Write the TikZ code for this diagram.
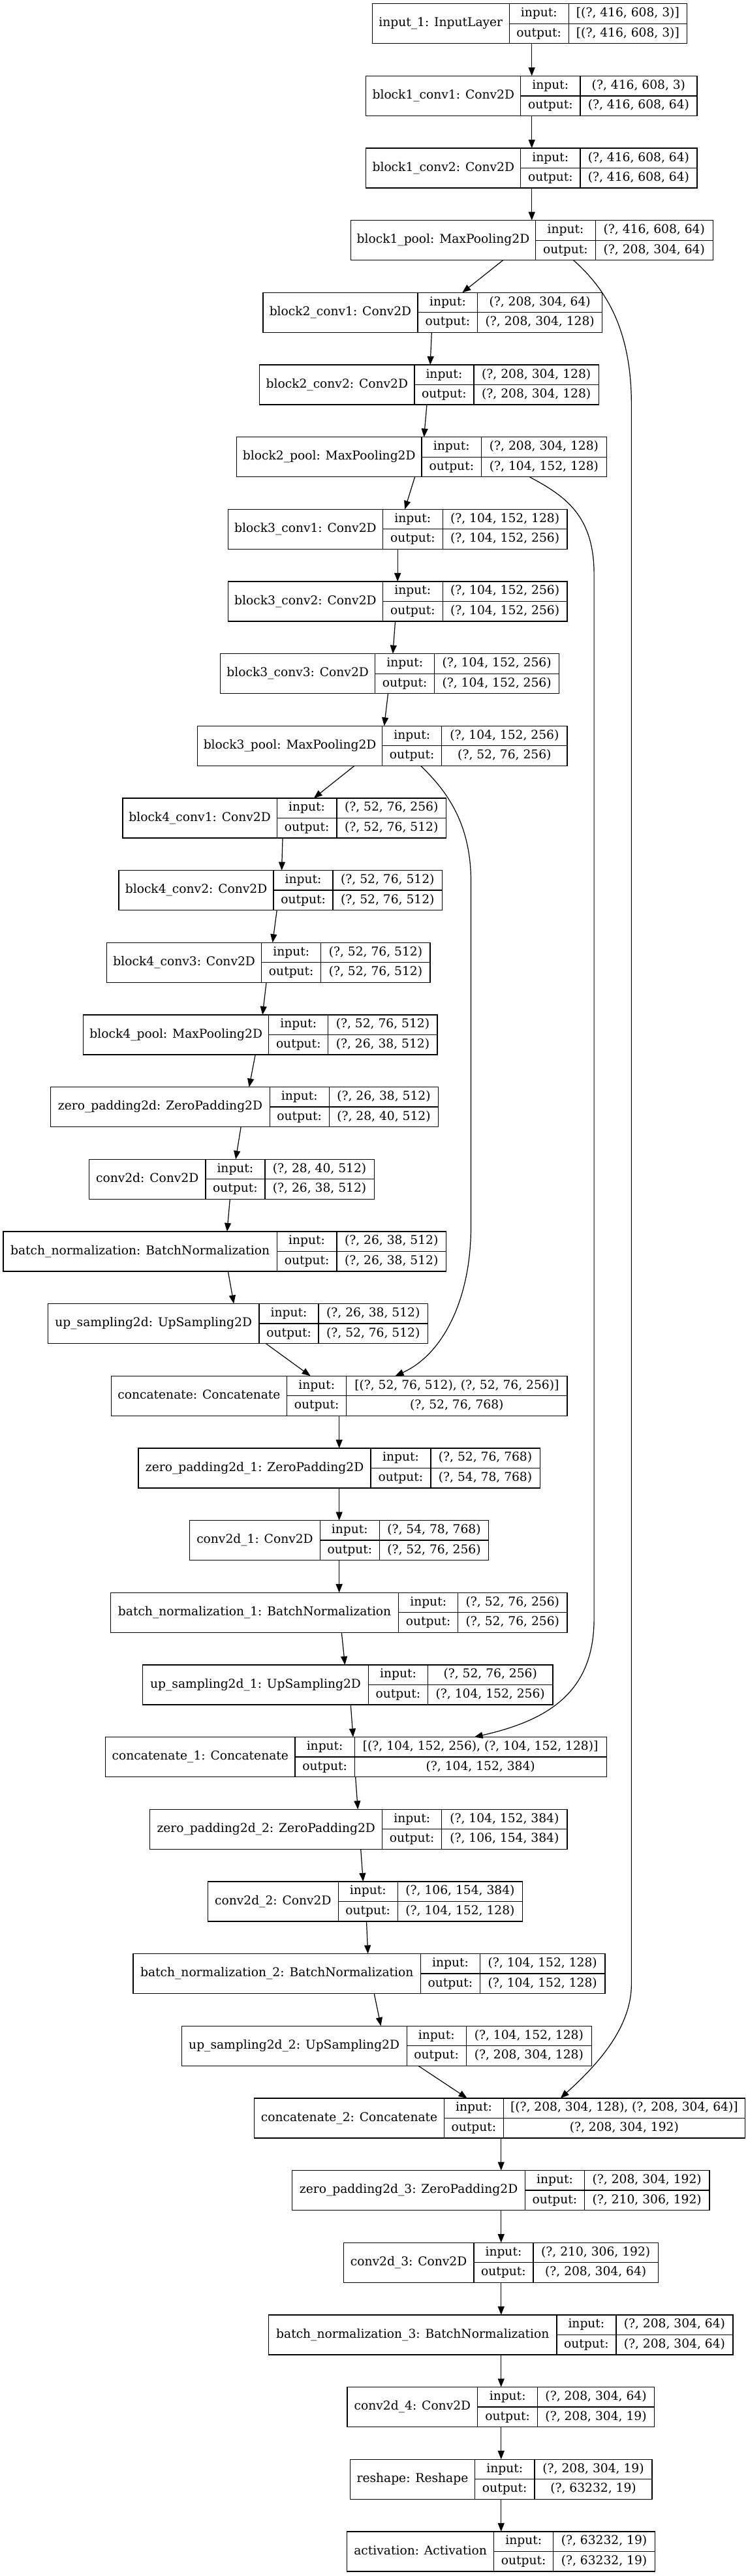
\documentclass[tikz,border=0pt]{standalone}
\usepackage{fontspec}
\setmainfont{DejaVu Serif}
\usetikzlibrary{arrows.meta,fit}
\tikzset{
  box/.style={draw, line width=1.3pt, inner sep=0pt, outer sep=0pt},
  divline/.style={line width=1.3pt},
  cell/.style={inner sep=0pt, text height=13.5pt, text depth=4pt, font=\fontsize{18.67pt}{22pt}\selectfont},
  edge/.style={line width=1.2pt, -{Triangle[length=13pt,width=10pt]}},
}
\newcommand\recnode[9]{%
  \pgfmathsetmacro\yt{5.7+110.66*#2}%
  \pgfmathsetmacro\yb{\yt+61}%
  \pgfmathsetmacro\ym{\yt+30.5}%
  \coordinate (#1-nw) at (#3,\yt);
  \coordinate (#1-se) at (#6,\yb);
  \node[box, fit=(#1-nw)(#1-se)] (#1) {};
  \draw[divline] (#4,\yt) -- (#4,\yb) (#5,\yt) -- (#5,\yb) (#4,\ym) -- (#6,\ym);
  \node[cell] (#1-l) at ({(#3+#4)/2},\ym) {#7};
  \node[cell] (#1-i) at ({(#4+#5)/2},{\yt+15.25}) {input:};
  \node[cell] (#1-o) at ({(#4+#5)/2},{\yt+45.75}) {output:};
  \node[cell] (#1-iv) at ({(#5+#6)/2},{\yt+15.25}) {#8};
  \node[cell] (#1-ov) at ({(#5+#6)/2},{\yt+45.75}) {#9};
}
\begin{document}
\begin{tikzpicture}[x=0.733974pt, y=-1pt]
\useasboundingbox (0,0) rectangle (1560,3947);
\fill[white] (0,0) rectangle (1560,3947);
\recnode{n0}{0}{777}{1063}{1187}{1434}{input\_1: InputLayer}{[(?, 416, 608, 3)]}{[(?, 416, 608, 3)]}
\recnode{n1}{1}{764}{1087}{1211}{1455}{block1\_conv1: Conv2D}{(?, 416, 608, 3)}{(?, 416, 608, 64)}
\recnode{n2}{2}{764}{1087}{1211}{1455}{block1\_conv2: Conv2D}{(?, 416, 608, 64)}{(?, 416, 608, 64)}
\recnode{n3}{3}{732}{1118}{1243}{1488}{block1\_pool: MaxPooling2D}{(?, 416, 608, 64)}{(?, 208, 304, 64)}
\recnode{n4}{4}{549}{872}{997}{1257}{block2\_conv1: Conv2D}{(?, 208, 304, 64)}{(?, 208, 304, 128)}
\recnode{n5}{5}{542}{865}{989}{1250}{block2\_conv2: Conv2D}{(?, 208, 304, 128)}{(?, 208, 304, 128)}
\recnode{n6}{6}{494}{880}{1005}{1266}{block2\_pool: MaxPooling2D}{(?, 208, 304, 128)}{(?, 104, 152, 128)}
\recnode{n7}{7}{476}{799}{924}{1184}{block3\_conv1: Conv2D}{(?, 104, 152, 128)}{(?, 104, 152, 256)}
\recnode{n8}{8}{476}{799}{924}{1184}{block3\_conv2: Conv2D}{(?, 104, 152, 256)}{(?, 104, 152, 256)}
\recnode{n9}{9}{460}{783}{907}{1167}{block3\_conv3: Conv2D}{(?, 104, 152, 256)}{(?, 104, 152, 256)}
\recnode{n10}{10}{412}{798}{922}{1184}{block3\_pool: MaxPooling2D}{(?, 104, 152, 256)}{(?, 52, 76, 256)}
\recnode{n11}{11}{256}{578}{703}{931}{block4\_conv1: Conv2D}{(?, 52, 76, 256)}{(?, 52, 76, 512)}
\recnode{n12}{12}{248}{571}{695}{923}{block4\_conv2: Conv2D}{(?, 52, 76, 512)}{(?, 52, 76, 512)}
\recnode{n13}{13}{223}{546}{670}{898}{block4\_conv3: Conv2D}{(?, 52, 76, 512)}{(?, 52, 76, 512)}
\recnode{n14}{14}{174}{561}{685}{913}{block4\_pool: MaxPooling2D}{(?, 52, 76, 512)}{(?, 26, 38, 512)}
\recnode{n15}{15}{106}{563}{687}{915}{zero\_padding2d: ZeroPadding2D}{(?, 26, 38, 512)}{(?, 28, 40, 512)}
\recnode{n16}{16}{186}{429}{553}{781}{conv2d: Conv2D}{(?, 28, 40, 512)}{(?, 26, 38, 512)}
\recnode{n17}{17}{7}{578}{703}{931}{batch\_normalization: BatchNormalization}{(?, 26, 38, 512)}{(?, 26, 38, 512)}
\recnode{n18}{18}{100}{541}{665}{893}{up\_sampling2d: UpSampling2D}{(?, 26, 38, 512)}{(?, 52, 76, 512)}
\recnode{n19}{19}{232}{599}{723}{1184}{concatenate: Concatenate}{[(?, 52, 76, 512), (?, 52, 76, 256)]}{(?, 52, 76, 768)}
\recnode{n20}{20}{289}{774}{899}{1127}{zero\_padding2d\_1: ZeroPadding2D}{(?, 52, 76, 768)}{(?, 54, 78, 768)}
\recnode{n21}{21}{396}{668}{792}{1020}{conv2d\_1: Conv2D}{(?, 54, 78, 768)}{(?, 52, 76, 256)}
\recnode{n22}{22}{231}{832}{956}{1184}{batch\_normalization\_1: BatchNormalization}{(?, 52, 76, 256)}{(?, 52, 76, 256)}
\recnode{n23}{23}{298}{769}{893}{1154}{up\_sampling2d\_1: UpSampling2D}{(?, 52, 76, 256)}{(?, 104, 152, 256)}
\recnode{n24}{24}{220}{616}{740}{1266}{concatenate\_1: Concatenate}{[(?, 104, 152, 256), (?, 104, 152, 128)]}{(?, 104, 152, 384)}
\recnode{n25}{25}{313}{798}{922}{1184}{zero\_padding2d\_2: ZeroPadding2D}{(?, 104, 152, 384)}{(?, 106, 154, 384)}
\recnode{n26}{26}{434}{706}{830}{1091}{conv2d\_2: Conv2D}{(?, 106, 154, 384)}{(?, 104, 152, 128)}
\recnode{n27}{27}{278}{878}{1002}{1263}{batch\_normalization\_2: BatchNormalization}{(?, 104, 152, 128)}{(?, 104, 152, 128)}
\recnode{n28}{28}{379}{849}{973}{1235}{up\_sampling2d\_2: UpSampling2D}{(?, 104, 152, 128)}{(?, 208, 304, 128)}
\recnode{n29}{29}{531}{927}{1051}{1555}{concatenate\_2: Concatenate}{[(?, 208, 304, 128), (?, 208, 304, 64)]}{(?, 208, 304, 192)}
\recnode{n30}{30}{610}{1096}{1220}{1481}{zero\_padding2d\_3: ZeroPadding2D}{(?, 208, 304, 192)}{(?, 210, 306, 192)}
\recnode{n31}{31}{717}{989}{1113}{1374}{conv2d\_3: Conv2D}{(?, 210, 306, 192)}{(?, 208, 304, 64)}
\recnode{n32}{32}{561}{1162}{1286}{1530}{batch\_normalization\_3: BatchNormalization}{(?, 208, 304, 64)}{(?, 208, 304, 64)}
\recnode{n33}{33}{725}{997}{1122}{1366}{conv2d\_4: Conv2D}{(?, 208, 304, 64)}{(?, 208, 304, 19)}
\recnode{n34}{34}{731}{991}{1116}{1361}{reshape: Reshape}{(?, 208, 304, 19)}{(?, 63232, 19)}
\recnode{n35}{35}{724}{1031}{1155}{1367}{activation: Activation}{(?, 63232, 19)}{(?, 63232, 19)}
% straight connectors
\draw[edge] (n0.south -| 1110,0) -- (n1.north -| 1110,0);
\draw[edge] (n1.south -| 1110,0) -- (n2.north -| 1110,0);
\draw[edge] (n2.south -| 1110,0) -- (n3.north -| 1110,0);
\draw[edge] (n3.south -| 1050,0) -- (n4.north -| 965,0);
\draw[edge] (n4.south -| 901,0) -- (n5.north -| 898,0);
\draw[edge] (n5.south -| 891,0) -- (n6.north -| 885,0);
\draw[edge] (n6.south -| 866,0) -- (n7.north -| 845,0);
\draw[edge] (n7.south -| 830,0) -- (n8.north -| 830,0);
\draw[edge] (n8.south -| 825,0) -- (n9.north -| 820,0);
\draw[edge] (n9.south -| 810,0) -- (n10.north -| 802,0);
\draw[edge] (n10.south -| 740,0) -- (n11.north -| 655,0);
\draw[edge] (n11.south -| 590,0) -- (n12.north -| 588,0);
\draw[edge] (n12.south -| 578,0) -- (n13.north -| 569,0);
\draw[edge] (n13.south -| 556,0) -- (n14.north -| 548,0);
\draw[edge] (n14.south -| 533,0) -- (n15.north -| 520,0);
\draw[edge] (n15.south -| 503,0) -- (n16.north -| 492,0);
\draw[edge] (n16.south -| 480,0) -- (n17.north -| 474,0);
\draw[edge] (n17.south -| 476,0) -- (n18.north -| 488,0);
\draw[edge] (n18.south -| 555,0) -- (n19.north -| 648,0);
\draw[edge] (n19.south -| 708,0) -- (n20.north -| 708,0);
\draw[edge] (n20.south -| 708,0) -- (n21.north -| 708,0);
\draw[edge] (n21.south -| 708,0) -- (n22.north -| 708,0);
\draw[edge] (n22.south -| 713,0) -- (n23.north -| 720,0);
\draw[edge] (n23.south -| 732,0) -- (n24.north -| 737,0);
\draw[edge] (n24.south -| 742,0) -- (n25.north -| 747,0);
\draw[edge] (n25.south -| 753,0) -- (n26.north -| 758,0);
\draw[edge] (n26.south -| 765,0) -- (n27.north -| 768,0);
\draw[edge] (n27.south -| 781,0) -- (n28.north -| 795,0);
\draw[edge] (n28.south -| 873,0) -- (n29.north -| 975,0);
\draw[edge] (n29.south -| 1046,0) -- (n30.north -| 1046,0);
\draw[edge] (n30.south -| 1046,0) -- (n31.north -| 1046,0);
\draw[edge] (n31.south -| 1046,0) -- (n32.north -| 1046,0);
\draw[edge] (n32.south -| 1046,0) -- (n33.north -| 1046,0);
\draw[edge] (n33.south -| 1046,0) -- (n34.north -| 1046,0);
\draw[edge] (n34.south -| 1046,0) -- (n35.north -| 1046,0);
% skip connectors
\draw[edge] (n3.south -| 1197,0) .. controls (1260,440) and (1318,500) .. (1318,620)
  -- (1318,3040) .. controls (1318,3110) and (1240,3168) .. (n29.north -| 1170,0);
\draw[edge] (n6.south -| 1105,0) .. controls (1180,760) and (1240,790) .. (1240,880)
  -- (1240,2480) .. controls (1240,2590) and (1150,2635) .. (n24.north -| 990,0);
\draw[edge] (n10.south -| 878,0) .. controls (930,1210) and (983,1260) .. (983,1350)
  -- (983,1880) .. controls (983,1990) and (925,2075) .. (n19.north -| 825,0);
\end{tikzpicture}
\end{document}
